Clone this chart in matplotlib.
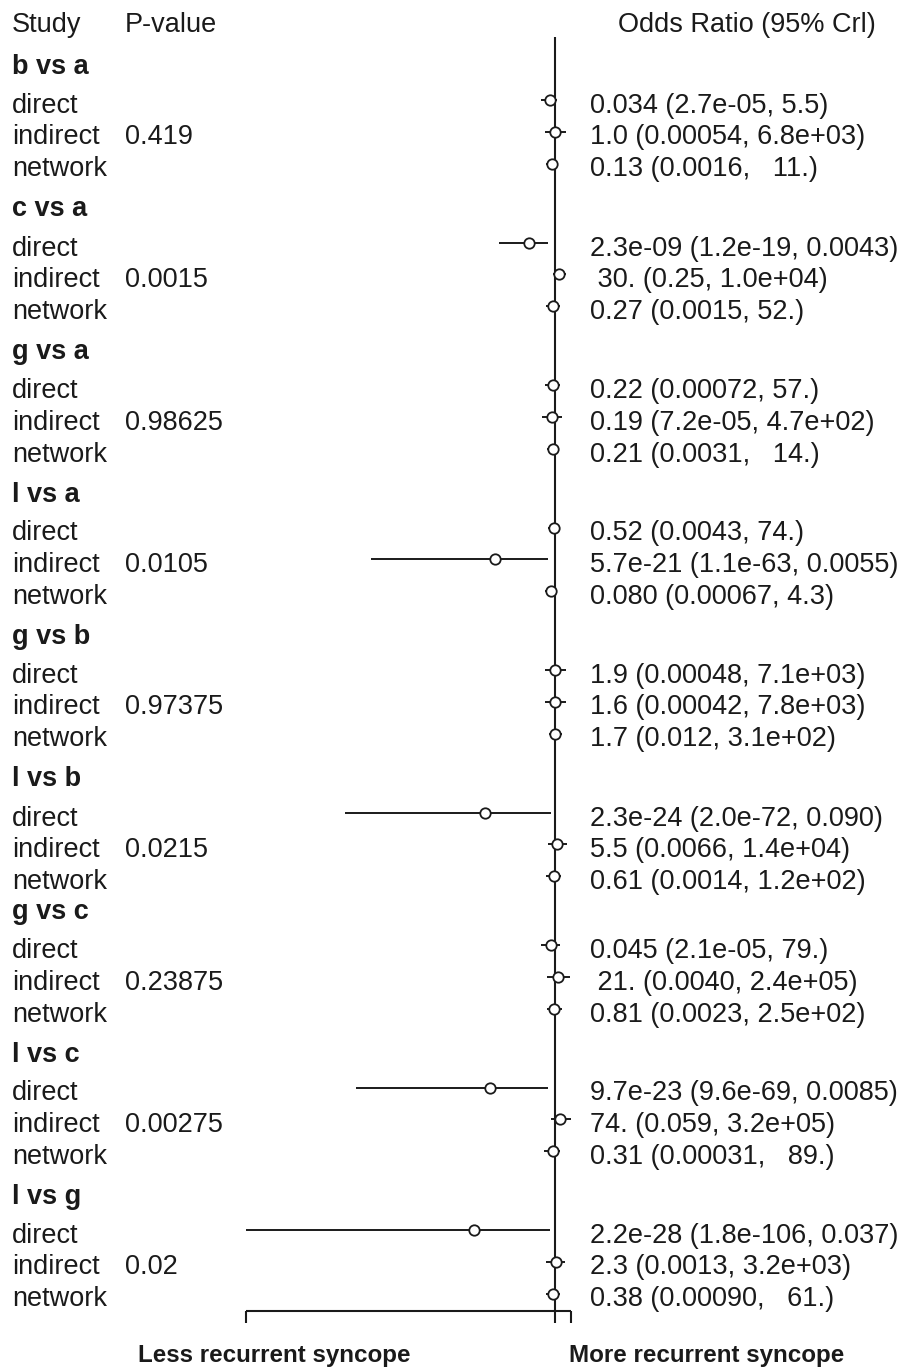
import matplotlib
matplotlib.use("Agg")
import matplotlib.pyplot as plt
from matplotlib.transforms import blended_transform_factory

plt.rcParams['font.family'] = ['Liberation Sans', 'DejaVu Sans']

# ---------------- data ----------------
comparisons = ["b vs a", "c vs a", "g vs a", "l vs a", "g vs b",
               "l vs b", "g vs c", "l vs c", "l vs g"]
row_types = ["direct", "indirect", "network"]
p_values = ["0.419", "0.0015", "0.98625", "0.0105", "0.97375",
            "0.0215", "0.23875", "0.00275", "0.02"]

# odds ratio point estimates (direct, indirect, network) per comparison
or_est = [
    [0.034, 1.0, 0.13],
    [2.3e-09, 30.0, 0.27],
    [0.22, 0.19, 0.21],
    [0.52, 5.7e-21, 0.080],
    [1.9, 1.6, 1.7],
    [2.3e-24, 5.5, 0.61],
    [0.045, 21.0, 0.81],
    [9.7e-23, 74.0, 0.31],
    [2.2e-28, 2.3, 0.38],
]
or_lo = [
    [2.7e-05, 0.00054, 0.0016],
    [1.2e-19, 0.25, 0.0015],
    [0.00072, 7.2e-05, 0.0031],
    [0.0043, 1.1e-63, 0.00067],
    [0.00048, 0.00042, 0.012],
    [2.0e-72, 0.0066, 0.0014],
    [2.1e-05, 0.0040, 0.0023],
    [9.6e-69, 0.059, 0.00031],
    [1.8e-106, 0.0013, 0.00090],
]
or_hi = [
    [5.5, 6.8e+03, 11.0],
    [0.0043, 1.0e+04, 52.0],
    [57.0, 4.7e+02, 14.0],
    [74.0, 0.0055, 4.3],
    [7.1e+03, 7.8e+03, 3.1e+02],
    [0.090, 1.4e+04, 1.2e+02],
    [79.0, 2.4e+05, 2.5e+02],
    [0.0085, 3.2e+05, 89.0],
    [0.037, 3.2e+03, 61.0],
]
or_labels = [
    ["0.034 (2.7e-05, 5.5)", "1.0 (0.00054, 6.8e+03)", "0.13 (0.0016,   11.)"],
    ["2.3e-09 (1.2e-19, 0.0043)", " 30. (0.25, 1.0e+04)", "0.27 (0.0015, 52.)"],
    ["0.22 (0.00072, 57.)", "0.19 (7.2e-05, 4.7e+02)", "0.21 (0.0031,   14.)"],
    ["0.52 (0.0043, 74.)", "5.7e-21 (1.1e-63, 0.0055)", "0.080 (0.00067, 4.3)"],
    ["1.9 (0.00048, 7.1e+03)", "1.6 (0.00042, 7.8e+03)", "1.7 (0.012, 3.1e+02)"],
    ["2.3e-24 (2.0e-72, 0.090)", "5.5 (0.0066, 1.4e+04)", "0.61 (0.0014, 1.2e+02)"],
    ["0.045 (2.1e-05, 79.)", " 21. (0.0040, 2.4e+05)", "0.81 (0.0023, 2.5e+02)"],
    ["9.7e-23 (9.6e-69, 0.0085)", "74. (0.059, 3.2e+05)", "0.31 (0.00031,   89.)"],
    ["2.2e-28 (1.8e-106, 0.037)", "2.3 (0.0013, 3.2e+03)", "0.38 (0.00090,   61.)"],
]

# ---------------- layout ----------------
W, H = 904, 1367
fig = plt.figure(figsize=(W / 100, H / 100), dpi=100)
ax = fig.add_axes([0, 0, 1, 1])
ax.set_xscale('log')
ref_px = 554.5
px_per_dec = 2.92
ax.set_xlim(10 ** (-ref_px / px_per_dec), 10 ** ((W - ref_px) / px_per_dec))
ax.set_ylim(H, 0)
ax.axis('off')

tr = blended_transform_factory(ax.transAxes, ax.transData)
FS = 19.5
col = '#1a1a1a'

def fx(p):
    return p / W

# header
ax.text(fx(12), 32, "Study", fontsize=FS, color=col, transform=tr, va='baseline')
ax.text(fx(125), 32, "P-value", fontsize=FS, color=col, transform=tr, va='baseline')
ax.text(fx(618), 32, "Odds Ratio (95% Crl)", fontsize=FS, color=col, transform=tr, va='baseline')

group_step = 142.5
row_off = [39, 70.5, 102.5]
all_lo, all_hi = [], []
for g, name in enumerate(comparisons):
    hy = 64 + g * group_step - (10 if g >= 6 else 0)
    ax.text(fx(12), hy + 10, name, fontsize=FS, fontweight='bold', color=col,
            transform=tr, va='baseline')
    for r, rt in enumerate(row_types):
        ty = hy + row_off[r]
        ax.text(fx(12), ty + 10, rt, fontsize=FS, color=col, transform=tr, va='baseline')
        if r == 1:
            ax.text(fx(125), ty + 10, p_values[g], fontsize=FS, color=col,
                    transform=tr, va='baseline')
        ax.text(fx(590), ty + 10, or_labels[g][r], fontsize=FS, color=col,
                transform=tr, va='baseline')
        my = ty - 3
        ax.hlines(my, or_lo[g][r], or_hi[g][r], color=col, lw=1.4, zorder=2)
        ax.plot([or_est[g][r]], [my], 'o', ms=7.5, mfc='white', mec=col, mew=1.3, zorder=3)
        all_lo.append(or_lo[g][r])
        all_hi.append(or_hi[g][r])

# reference line at OR = 1
ax.vlines(1, 37, 1323, color=col, lw=1.5, zorder=1)
# bottom axis
xmin, xmax = min(all_lo), max(all_hi)
ax.hlines(1311, xmin, xmax, color=col, lw=1.5)
ax.vlines([xmin, xmax], 1311, 1323, color=col, lw=1.5)

ax.text(fx(274), 1362, "Less recurrent syncope", fontsize=17.4, fontweight='bold',
        color=col, transform=tr, ha='center', va='baseline')
ax.text(fx(707), 1362, "More recurrent syncope", fontsize=17.4, fontweight='bold',
        color=col, transform=tr, ha='center', va='baseline')

fig.savefig("out.png", dpi=100)
